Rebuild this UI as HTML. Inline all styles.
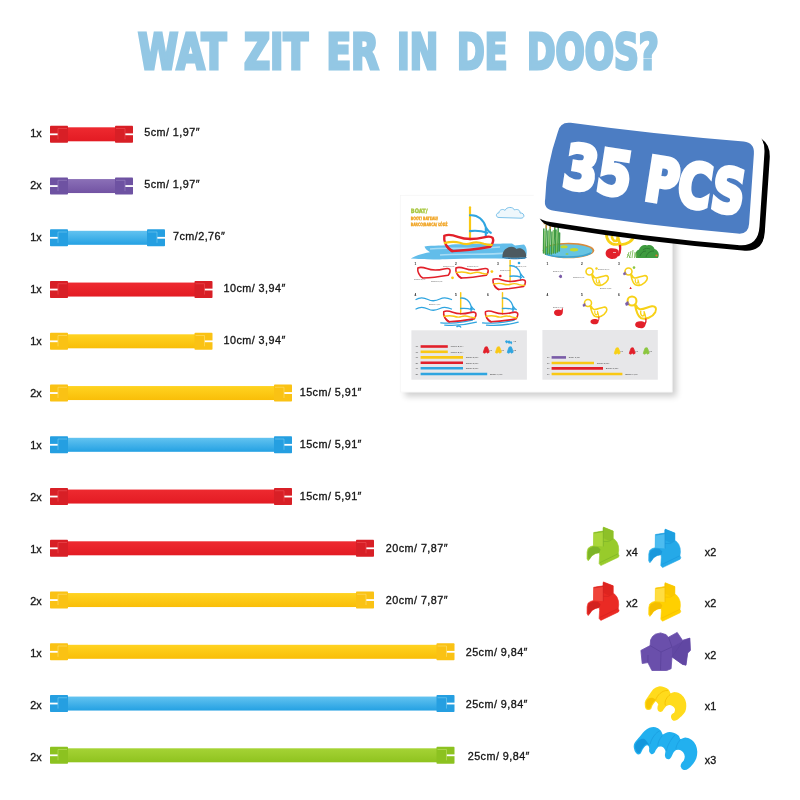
<!DOCTYPE html>
<html lang="nl"><head><meta charset="utf-8"><title>Wat zit er in de doos?</title>
<style>html,body{margin:0;padding:0;background:#fff}body{width:800px;height:800px;overflow:hidden}svg{display:block}text{white-space:pre}</style></head><body>
<svg width="800" height="800" viewBox="0 0 800 800">
<rect width="800" height="800" fill="#fff"/>
<defs><linearGradient id="g_red" x1="0" y1="0" x2="0" y2="1"><stop offset="0" stop-color="#ee2a30"/><stop offset="1" stop-color="#e31b23"/></linearGradient><linearGradient id="g_purple" x1="0" y1="0" x2="0" y2="1"><stop offset="0" stop-color="#8b70b7"/><stop offset="1" stop-color="#7253a3"/></linearGradient><linearGradient id="g_blue" x1="0" y1="0" x2="0" y2="1"><stop offset="0" stop-color="#63c3f0"/><stop offset="1" stop-color="#24a1e3"/></linearGradient><linearGradient id="g_yellow" x1="0" y1="0" x2="0" y2="1"><stop offset="0" stop-color="#ffd321"/><stop offset="1" stop-color="#f9be08"/></linearGradient><linearGradient id="g_green" x1="0" y1="0" x2="0" y2="1"><stop offset="0" stop-color="#a5d335"/><stop offset="1" stop-color="#8fc31f"/></linearGradient><filter id="blur3" x="-10%" y="-10%" width="120%" height="120%"><feGaussianBlur stdDeviation="3"/></filter></defs>
<g id="title" fill="#93c7e4" stroke="#93c7e4" stroke-width="3.0" stroke-linejoin="miter" font-family="'DejaVu Sans Condensed','DejaVu Sans','Liberation Sans',sans-serif" font-weight="bold" font-size="50">
<text><tspan x="138.0" y="69.0" textLength="88.3" lengthAdjust="spacingAndGlyphs">WAT</tspan> <tspan x="243.9" y="69.0" textLength="64.1" lengthAdjust="spacingAndGlyphs">ZIT</tspan> <tspan x="326.4" y="69.0" textLength="52.4" lengthAdjust="spacingAndGlyphs">ER</tspan> <tspan x="397.0" y="69.0" textLength="41.1" lengthAdjust="spacingAndGlyphs">IN</tspan> <tspan x="457.0" y="69.0" textLength="50.5" lengthAdjust="spacingAndGlyphs">DE</tspan> <tspan x="527.0" y="69.0" textLength="131.8" lengthAdjust="spacingAndGlyphs">DOOS?</tspan></text>
</g>
<g id="bars">
<rect x="67.0" y="127.30" width="49.0" height="14" fill="url(#g_red)"/>
<rect x="50.0" y="125.85" width="18" height="16.9" rx="0.8" fill="#d81f26"/>
<rect x="115.0" y="125.85" width="18" height="16.9" rx="0.8" fill="#d81f26"/>
<rect x="49.5" y="133.40" width="8.3" height="1.8" fill="#fff"/>
<rect x="125.2" y="133.40" width="8.3" height="1.8" fill="#fff"/>
<path d="M58.0 128.50H67.0M58.0 128.50V139.30" stroke="#f0555a" stroke-width="0.7" fill="none" opacity="0.8"/>
<path d="M116.0 128.50H125.0M125.0 128.50V139.30" stroke="#f0555a" stroke-width="0.7" fill="none" opacity="0.8"/>
<rect x="67.0" y="179.05" width="49.0" height="14" fill="url(#g_purple)"/>
<rect x="50.0" y="177.60" width="18" height="16.9" rx="0.8" fill="#6e52a2"/>
<rect x="115.0" y="177.60" width="18" height="16.9" rx="0.8" fill="#6e52a2"/>
<rect x="49.5" y="185.15" width="8.3" height="1.8" fill="#fff"/>
<rect x="125.2" y="185.15" width="8.3" height="1.8" fill="#fff"/>
<path d="M58.0 180.25H67.0M58.0 180.25V191.05" stroke="#a28dc8" stroke-width="0.7" fill="none" opacity="0.8"/>
<path d="M116.0 180.25H125.0M125.0 180.25V191.05" stroke="#a28dc8" stroke-width="0.7" fill="none" opacity="0.8"/>
<rect x="67.0" y="230.80" width="81.0" height="14" fill="url(#g_blue)"/>
<rect x="50.0" y="229.35" width="18" height="16.9" rx="0.8" fill="#259fe1"/>
<rect x="147.0" y="229.35" width="18" height="16.9" rx="0.8" fill="#259fe1"/>
<rect x="49.5" y="236.90" width="8.3" height="1.8" fill="#fff"/>
<rect x="157.2" y="236.90" width="8.3" height="1.8" fill="#fff"/>
<path d="M58.0 232.00H67.0M58.0 232.00V242.80" stroke="#7fd0f3" stroke-width="0.7" fill="none" opacity="0.8"/>
<path d="M148.0 232.00H157.0M157.0 232.00V242.80" stroke="#7fd0f3" stroke-width="0.7" fill="none" opacity="0.8"/>
<rect x="67.0" y="282.55" width="128.5" height="14" fill="url(#g_red)"/>
<rect x="50.0" y="281.10" width="18" height="16.9" rx="0.8" fill="#d81f26"/>
<rect x="194.5" y="281.10" width="18" height="16.9" rx="0.8" fill="#d81f26"/>
<rect x="49.5" y="288.65" width="8.3" height="1.8" fill="#fff"/>
<rect x="204.7" y="288.65" width="8.3" height="1.8" fill="#fff"/>
<path d="M58.0 283.75H67.0M58.0 283.75V294.55" stroke="#f0555a" stroke-width="0.7" fill="none" opacity="0.8"/>
<path d="M195.5 283.75H204.5M204.5 283.75V294.55" stroke="#f0555a" stroke-width="0.7" fill="none" opacity="0.8"/>
<rect x="67.0" y="334.30" width="128.5" height="14" fill="url(#g_yellow)"/>
<rect x="50.0" y="332.85" width="18" height="16.9" rx="0.8" fill="#fac214"/>
<rect x="194.5" y="332.85" width="18" height="16.9" rx="0.8" fill="#fac214"/>
<rect x="49.5" y="340.40" width="8.3" height="1.8" fill="#fff"/>
<rect x="204.7" y="340.40" width="8.3" height="1.8" fill="#fff"/>
<path d="M58.0 335.50H67.0M58.0 335.50V346.30" stroke="#ffe37a" stroke-width="0.7" fill="none" opacity="0.8"/>
<path d="M195.5 335.50H204.5M204.5 335.50V346.30" stroke="#ffe37a" stroke-width="0.7" fill="none" opacity="0.8"/>
<rect x="67.0" y="386.05" width="208.0" height="14" fill="url(#g_yellow)"/>
<rect x="50.0" y="384.60" width="18" height="16.9" rx="0.8" fill="#fac214"/>
<rect x="274.0" y="384.60" width="18" height="16.9" rx="0.8" fill="#fac214"/>
<rect x="49.5" y="392.15" width="8.3" height="1.8" fill="#fff"/>
<rect x="284.2" y="392.15" width="8.3" height="1.8" fill="#fff"/>
<path d="M58.0 387.25H67.0M58.0 387.25V398.05" stroke="#ffe37a" stroke-width="0.7" fill="none" opacity="0.8"/>
<path d="M275.0 387.25H284.0M284.0 387.25V398.05" stroke="#ffe37a" stroke-width="0.7" fill="none" opacity="0.8"/>
<rect x="67.0" y="437.80" width="208.0" height="14" fill="url(#g_blue)"/>
<rect x="50.0" y="436.35" width="18" height="16.9" rx="0.8" fill="#259fe1"/>
<rect x="274.0" y="436.35" width="18" height="16.9" rx="0.8" fill="#259fe1"/>
<rect x="49.5" y="443.90" width="8.3" height="1.8" fill="#fff"/>
<rect x="284.2" y="443.90" width="8.3" height="1.8" fill="#fff"/>
<path d="M58.0 439.00H67.0M58.0 439.00V449.80" stroke="#7fd0f3" stroke-width="0.7" fill="none" opacity="0.8"/>
<path d="M275.0 439.00H284.0M284.0 439.00V449.80" stroke="#7fd0f3" stroke-width="0.7" fill="none" opacity="0.8"/>
<rect x="67.0" y="489.55" width="208.0" height="14" fill="url(#g_red)"/>
<rect x="50.0" y="488.10" width="18" height="16.9" rx="0.8" fill="#d81f26"/>
<rect x="274.0" y="488.10" width="18" height="16.9" rx="0.8" fill="#d81f26"/>
<rect x="49.5" y="495.65" width="8.3" height="1.8" fill="#fff"/>
<rect x="284.2" y="495.65" width="8.3" height="1.8" fill="#fff"/>
<path d="M58.0 490.75H67.0M58.0 490.75V501.55" stroke="#f0555a" stroke-width="0.7" fill="none" opacity="0.8"/>
<path d="M275.0 490.75H284.0M284.0 490.75V501.55" stroke="#f0555a" stroke-width="0.7" fill="none" opacity="0.8"/>
<rect x="67.0" y="541.30" width="290.0" height="14" fill="url(#g_red)"/>
<rect x="50.0" y="539.85" width="18" height="16.9" rx="0.8" fill="#d81f26"/>
<rect x="356.0" y="539.85" width="18" height="16.9" rx="0.8" fill="#d81f26"/>
<rect x="49.5" y="547.40" width="8.3" height="1.8" fill="#fff"/>
<rect x="366.2" y="547.40" width="8.3" height="1.8" fill="#fff"/>
<path d="M58.0 542.50H67.0M58.0 542.50V553.30" stroke="#f0555a" stroke-width="0.7" fill="none" opacity="0.8"/>
<path d="M357.0 542.50H366.0M366.0 542.50V553.30" stroke="#f0555a" stroke-width="0.7" fill="none" opacity="0.8"/>
<rect x="67.0" y="593.05" width="290.0" height="14" fill="url(#g_yellow)"/>
<rect x="50.0" y="591.60" width="18" height="16.9" rx="0.8" fill="#fac214"/>
<rect x="356.0" y="591.60" width="18" height="16.9" rx="0.8" fill="#fac214"/>
<rect x="49.5" y="599.15" width="8.3" height="1.8" fill="#fff"/>
<rect x="366.2" y="599.15" width="8.3" height="1.8" fill="#fff"/>
<path d="M58.0 594.25H67.0M58.0 594.25V605.05" stroke="#ffe37a" stroke-width="0.7" fill="none" opacity="0.8"/>
<path d="M357.0 594.25H366.0M366.0 594.25V605.05" stroke="#ffe37a" stroke-width="0.7" fill="none" opacity="0.8"/>
<rect x="67.0" y="644.80" width="370.5" height="14" fill="url(#g_yellow)"/>
<rect x="50.0" y="643.35" width="18" height="16.9" rx="0.8" fill="#fac214"/>
<rect x="436.5" y="643.35" width="18" height="16.9" rx="0.8" fill="#fac214"/>
<rect x="49.5" y="650.90" width="8.3" height="1.8" fill="#fff"/>
<rect x="446.7" y="650.90" width="8.3" height="1.8" fill="#fff"/>
<path d="M58.0 646.00H67.0M58.0 646.00V656.80" stroke="#ffe37a" stroke-width="0.7" fill="none" opacity="0.8"/>
<path d="M437.5 646.00H446.5M446.5 646.00V656.80" stroke="#ffe37a" stroke-width="0.7" fill="none" opacity="0.8"/>
<rect x="67.0" y="696.55" width="370.5" height="14" fill="url(#g_blue)"/>
<rect x="50.0" y="695.10" width="18" height="16.9" rx="0.8" fill="#259fe1"/>
<rect x="436.5" y="695.10" width="18" height="16.9" rx="0.8" fill="#259fe1"/>
<rect x="49.5" y="702.65" width="8.3" height="1.8" fill="#fff"/>
<rect x="446.7" y="702.65" width="8.3" height="1.8" fill="#fff"/>
<path d="M58.0 697.75H67.0M58.0 697.75V708.55" stroke="#7fd0f3" stroke-width="0.7" fill="none" opacity="0.8"/>
<path d="M437.5 697.75H446.5M446.5 697.75V708.55" stroke="#7fd0f3" stroke-width="0.7" fill="none" opacity="0.8"/>
<rect x="67.0" y="748.30" width="370.5" height="14" fill="url(#g_green)"/>
<rect x="50.0" y="746.85" width="18" height="16.9" rx="0.8" fill="#8cc220"/>
<rect x="436.5" y="746.85" width="18" height="16.9" rx="0.8" fill="#8cc220"/>
<rect x="49.5" y="754.40" width="8.3" height="1.8" fill="#fff"/>
<rect x="446.7" y="754.40" width="8.3" height="1.8" fill="#fff"/>
<path d="M58.0 749.50H67.0M58.0 749.50V760.30" stroke="#c3e36e" stroke-width="0.7" fill="none" opacity="0.8"/>
<path d="M437.5 749.50H446.5M446.5 749.50V760.30" stroke="#c3e36e" stroke-width="0.7" fill="none" opacity="0.8"/>
</g>
<g id="labels" font-family="'Liberation Sans',sans-serif" font-size="10.8" fill="#151515" stroke="#151515" stroke-width="0.32">
<text x="30.3" y="137.2">1x</text>
<text x="144.2" y="135.8" letter-spacing="0.45">5cm/ 1,97″</text>
<text x="30.3" y="189.2">2x</text>
<text x="144.2" y="187.8" letter-spacing="0.45">5cm/ 1,97″</text>
<text x="30.3" y="241.2">1x</text>
<text x="173.0" y="239.8" letter-spacing="0.45">7cm/2,76″</text>
<text x="30.3" y="293.2">1x</text>
<text x="223.5" y="291.8" letter-spacing="0.45">10cm/ 3,94″</text>
<text x="30.3" y="345.2">1x</text>
<text x="223.5" y="343.8" letter-spacing="0.45">10cm/ 3,94″</text>
<text x="30.3" y="397.2">2x</text>
<text x="299.7" y="395.8" letter-spacing="0.45">15cm/ 5,91″</text>
<text x="30.3" y="449.2">1x</text>
<text x="299.7" y="447.8" letter-spacing="0.45">15cm/ 5,91″</text>
<text x="30.3" y="501.2">2x</text>
<text x="299.7" y="499.8" letter-spacing="0.45">15cm/ 5,91″</text>
<text x="30.3" y="553.2">1x</text>
<text x="385.8" y="551.8" letter-spacing="0.45">20cm/ 7,87″</text>
<text x="30.3" y="605.2">2x</text>
<text x="385.8" y="603.8" letter-spacing="0.45">20cm/ 7,87″</text>
<text x="30.3" y="657.2">1x</text>
<text x="465.7" y="655.8" letter-spacing="0.45">25cm/ 9,84″</text>
<text x="30.3" y="709.2">2x</text>
<text x="465.7" y="707.8" letter-spacing="0.45">25cm/ 9,84″</text>
<text x="30.3" y="761.2">2x</text>
<text x="467.7" y="759.8" letter-spacing="0.45">25cm/ 9,84″</text>
</g>
<g id="booklet">
<rect x="405" y="200" width="271.5" height="196.5" fill="#000" opacity="0.19" filter="url(#blur3)"/>
<rect x="400" y="195" width="272.4" height="197.3" fill="#fff"/>
<rect x="400.3" y="195.3" width="271.8" height="196.7" fill="none" stroke="#f4f4f4" stroke-width="0.6"/>
<g font-family="'DejaVu Sans Condensed','DejaVu Sans',sans-serif" font-weight="bold" stroke-width="0.35">
<text x="410.8" y="213" font-size="6" fill="#a6c63c" stroke="#a6c63c" textLength="16.7" lengthAdjust="spacingAndGlyphs">BOAT/</text>
<text x="410.8" y="219.6" font-size="4.6" fill="#f0a21e" stroke="#f0a21e" textLength="27.2" lengthAdjust="spacingAndGlyphs">BOOT/ BATEAU/</text>
<text x="410.8" y="226" font-size="4.6" fill="#f0a21e" stroke="#f0a21e" textLength="36.7" lengthAdjust="spacingAndGlyphs">BARCO/BARCA/ ŁÓDŹ</text>
</g>
<path d="M424.5 246.6C432 245 445 246 452 244.5C470 243 500 244 512 243.5L515 245.5L524 244.5C528 248 527 256 525 259C500 258.5 470 258 445 259.2C436 259.6 420 259.5 410.8 258.6C414 256 424 253 430 252.2C427 250.5 425 248.5 424.5 246.6Z" fill="#62bdea"/>
<path d="M430 249C445 247 470 250 500 247M440 255C460 253 490 256 515 252" stroke="#a6dcf5" stroke-width="1.6" fill="none"/>
<path d="M502.5 255C503 250 507 246.8 511.5 246.8C514 246.8 515.5 248 516.5 249C518 248 521 248 523 249.5C526 251.5 526.5 255 526 257.3C520 258 508 258 502.5 257Z" fill="#4d5a60"/>
<path d="M502 257C508 259.3 520 259.3 526.5 257.5" stroke="#2f6f9e" stroke-width="1" fill="none"/>
<path d="M499 217.5C495.5 217.5 495.5 213 499 212.8C499 209.5 503.5 208.5 505 210.5C506.5 206.5 513 206.5 514.5 210C517.5 208.5 520.5 210.5 520 213C524.5 212.5 525.5 218 521 218.2Z" fill="#eef7fc" stroke="#6fbbe6" stroke-width="0.9"/>
<g transform="translate(443.8 235.3) scale(1.000)" fill="none" stroke-linecap="round" stroke-linejoin="round"><path d="M26.2 -28V4" stroke="#f9c814" stroke-width="2.2"/><path d="M26.2 -20C34 -21 40 -15 42 -8C44 -5 46 -3 47 -2.5M26.2 -4.2C33 -5 39 -4 43.5 -2.5M42 -8L42 1.5" stroke="#2fa5e0" stroke-width="2.1"/><path d="M0.5 0.5C5 -1.5 10 0 14 1.5C22 4.5 32 4 40 2C44 1 47.5 1.2 48.8 2.5C50 5 48.5 9 46.5 11.5C35 13.5 18 15.5 8 15.8C3 13 -0.5 6 0.5 0.5Z" stroke="#e2202a" stroke-width="2.4"/><path d="M1 7.5C6 6.5 11 6 16 7.5C20 9 23 9.5 27 8C31 6.5 36 7 40 8.5C43 9.5 46 9.8 48 9.5" stroke="#f9c814" stroke-width="2.2"/><path d="M3 11C5 13.5 7 15 9 15.8" stroke="#e2202a" stroke-width="2.4"/></g>
<g font-family="'Liberation Sans',sans-serif" font-weight="bold" font-size="3.2" fill="#222">
<text x="414.5" y="264.5">1</text>
<text x="455.0" y="264.5">2</text>
<text x="497.0" y="264.5">3</text>
<text x="414.5" y="296.0">4</text>
<text x="455.0" y="296.0">5</text>
<text x="487.0" y="296.0">6</text>
<text x="546.5" y="264.5">1</text>
<text x="581.0" y="264.5">2</text>
<text x="618.0" y="264.5">3</text>
<text x="546.5" y="296.0">4</text>
<text x="581.0" y="296.0">5</text>
<text x="618.0" y="296.0">6</text>
</g>
<g transform="translate(417.5 267.6) scale(0.660)" fill="none" stroke-linecap="round" stroke-linejoin="round"><path d="M0.5 0.5C5 -1.5 10 0 14 1.5C22 4.5 32 4 40 2C44 1 47.5 1.2 48.8 2.5C50 5 48.5 9 46.5 11.5C35 13.5 18 15.5 8 15.8C3 13 -0.5 6 0.5 0.5Z" stroke="#e2202a" stroke-width="2.4"/></g>
<g transform="translate(455.6 267.6) scale(0.660)" fill="none" stroke-linecap="round" stroke-linejoin="round"><path d="M0.5 0.5C5 -1.5 10 0 14 1.5C22 4.5 32 4 40 2C44 1 47.5 1.2 48.8 2.5C50 5 48.5 9 46.5 11.5C35 13.5 18 15.5 8 15.8C3 13 -0.5 6 0.5 0.5Z" stroke="#e2202a" stroke-width="2.4"/><path d="M1 7.5C6 6.5 11 6 16 7.5C20 9 23 9.5 27 8C31 6.5 36 7 40 8.5C43 9.5 46 9.8 48 9.5" stroke="#f9c814" stroke-width="2.2"/><path d="M3 11C5 13.5 7 15 9 15.8" stroke="#e2202a" stroke-width="2.4"/></g>
<circle cx="452.5" cy="277.8" r="1.4" fill="#f9c814"/><circle cx="491.9" cy="271.6" r="1.4" fill="#f9c814"/>
<g transform="translate(492.8 279.0) scale(0.660)" fill="none" stroke-linecap="round" stroke-linejoin="round"><path d="M26.2 -28V4" stroke="#f9c814" stroke-width="2.2"/><path d="M26.2 -20C34 -21 40 -15 42 -8C44 -5 46 -3 47 -2.5M26.2 -4.2C33 -5 39 -4 43.5 -2.5M42 -8L42 1.5" stroke="#2fa5e0" stroke-width="2.1"/><path d="M0.5 0.5C5 -1.5 10 0 14 1.5C22 4.5 32 4 40 2C44 1 47.5 1.2 48.8 2.5C50 5 48.5 9 46.5 11.5C35 13.5 18 15.5 8 15.8C3 13 -0.5 6 0.5 0.5Z" stroke="#e2202a" stroke-width="2.4"/><path d="M1 7.5C6 6.5 11 6 16 7.5C20 9 23 9.5 27 8C31 6.5 36 7 40 8.5C43 9.5 46 9.8 48 9.5" stroke="#f9c814" stroke-width="2.2"/><path d="M3 11C5 13.5 7 15 9 15.8" stroke="#e2202a" stroke-width="2.4"/></g>
<circle cx="500.3" cy="276" r="1.3" fill="#e2202a"/><circle cx="519" cy="263" r="1.3" fill="#2fa5e0"/>
<path d="M416 299.5C420 297 424 297.5 428 299.5C432 301.5 436 301 440 299C444 297 448 298 451.5 299.5M416 309C420 306.5 424 307 428 309C432 311 436 310.5 440 308.5C444 306.5 448 307.5 451.5 309" stroke="#2fa5e0" stroke-width="1.3" fill="none" stroke-linecap="round"/>
<g transform="translate(443.4 311.3) scale(0.660)" fill="none" stroke-linecap="round" stroke-linejoin="round"><path d="M-4 17.5C8 19 30 17 44 13.5M2 21C15 22 35 20.5 50 16.5" stroke="#2fa5e0" stroke-width="1.9"/><path d="M26.2 -28V4" stroke="#f9c814" stroke-width="2.2"/><path d="M26.2 -20C34 -21 40 -15 42 -8C44 -5 46 -3 47 -2.5M26.2 -4.2C33 -5 39 -4 43.5 -2.5M42 -8L42 1.5" stroke="#2fa5e0" stroke-width="2.1"/><path d="M0.5 0.5C5 -1.5 10 0 14 1.5C22 4.5 32 4 40 2C44 1 47.5 1.2 48.8 2.5C50 5 48.5 9 46.5 11.5C35 13.5 18 15.5 8 15.8C3 13 -0.5 6 0.5 0.5Z" stroke="#e2202a" stroke-width="2.4"/><path d="M1 7.5C6 6.5 11 6 16 7.5C20 9 23 9.5 27 8C31 6.5 36 7 40 8.5C43 9.5 46 9.8 48 9.5" stroke="#f9c814" stroke-width="2.2"/><path d="M3 11C5 13.5 7 15 9 15.8" stroke="#e2202a" stroke-width="2.4"/></g>
<path d="M456.5 327C458 325.5 460 325.8 461 327.5" stroke="#2fa5e0" stroke-width="1.4" fill="none"/>
<g transform="translate(485.2 311.3) scale(0.660)" fill="none" stroke-linecap="round" stroke-linejoin="round"><path d="M-4 17.5C8 19 30 17 44 13.5M2 21C15 22 35 20.5 50 16.5" stroke="#2fa5e0" stroke-width="1.9"/><path d="M26.2 -28V4" stroke="#f9c814" stroke-width="2.2"/><path d="M26.2 -20C34 -21 40 -15 42 -8C44 -5 46 -3 47 -2.5M26.2 -4.2C33 -5 39 -4 43.5 -2.5M42 -8L42 1.5" stroke="#2fa5e0" stroke-width="2.1"/><path d="M0.5 0.5C5 -1.5 10 0 14 1.5C22 4.5 32 4 40 2C44 1 47.5 1.2 48.8 2.5C50 5 48.5 9 46.5 11.5C35 13.5 18 15.5 8 15.8C3 13 -0.5 6 0.5 0.5Z" stroke="#e2202a" stroke-width="2.4"/><path d="M1 7.5C6 6.5 11 6 16 7.5C20 9 23 9.5 27 8C31 6.5 36 7 40 8.5C43 9.5 46 9.8 48 9.5" stroke="#f9c814" stroke-width="2.2"/><path d="M3 11C5 13.5 7 15 9 15.8" stroke="#e2202a" stroke-width="2.4"/></g>
<g font-family="'Liberation Sans',sans-serif" font-size="2.2" fill="#555">
<text x="443.0" y="266.5">15cm/ 5,91″</text>
<text x="414.0" y="279.5">10cm/ 3,94″</text>
<text x="431.0" y="282.0">15cm/ 5,91″</text>
<text x="467.0" y="266.5">10cm/ 3,94″</text>
<text x="516.0" y="267.0">5cm/ 1,97″</text>
<text x="500.0" y="271.0">7cm/ 2,76″</text>
<text x="429.0" y="304.5">25cm/ 9,84″</text>
</g>
<rect x="411.4" y="330.3" width="115.5" height="49.4" fill="#e7e7e9"/>
<g font-family="'Liberation Sans',sans-serif" font-size="2.4" fill="#333">
<path d="M420.6 346.5H447.8" stroke="#e2202a" stroke-width="2.6"/>
<text x="415.6" y="347.4">1x</text>
<text x="450.6" y="347.4">10cm/ 3,94″</text>
<path d="M420.6 351.8H447.8" stroke="#f9c814" stroke-width="2.6"/>
<text x="415.6" y="352.7">1x</text>
<text x="450.6" y="352.7">10cm/ 3,94″</text>
<path d="M420.6 357.4H463.0" stroke="#f9c814" stroke-width="2.6"/>
<text x="415.6" y="358.3">1x</text>
<text x="465.8" y="358.3">15cm/ 5,91″</text>
<path d="M420.6 362.8H463.0" stroke="#e2202a" stroke-width="2.6"/>
<text x="415.6" y="363.7">2x</text>
<text x="465.8" y="363.7">15cm/ 5,91″</text>
<path d="M420.6 368.2H463.0" stroke="#2fa5e0" stroke-width="2.6"/>
<text x="415.6" y="369.1">1x</text>
<text x="465.8" y="369.1">15cm/ 5,91″</text>
<path d="M420.6 374.0H487.2" stroke="#2fa5e0" stroke-width="2.6"/>
<text x="415.6" y="374.9">2x</text>
<text x="490.0" y="374.9">25cm/ 9,84″</text>
<path d="M484.0 350.0l1.2 -3l2 -0.2l1.2 2.6l0.8 2.8l-1.8 1l-0.9 -1.2l-1.7 1.2l-1.5 -0.6z" fill="#e2202a" stroke="#e2202a" stroke-width="0.8" stroke-linejoin="round"/><text x="489.2" y="351.2">x1</text>
<path d="M496.2 350.0l1.2 -3l2 -0.2l1.2 2.6l0.8 2.8l-1.8 1l-0.9 -1.2l-1.7 1.2l-1.5 -0.6z" fill="#f9c814" stroke="#f9c814" stroke-width="0.8" stroke-linejoin="round"/><text x="501.4" y="351.2">x1</text>
<path d="M508.0 350.0l1.2 -3l2 -0.2l1.2 2.6l0.8 2.8l-1.8 1l-0.9 -1.2l-1.7 1.2l-1.5 -0.6z" fill="#2fa5e0" stroke="#2fa5e0" stroke-width="0.8" stroke-linejoin="round"/><text x="513.2" y="351.2">x2</text>
<path d="M505 341.5c1 -1.8 2.4 -1.6 2.8 -0.2c0.8 -1.4 2.2 -1 2.4 0.4c0.8 -1 2 -0.4 2 1.4l-1 1.4l-1 -1.6l-1.2 1.2l-1.2 -1.6l-1.4 1z" fill="#2fa5e0"/><text x="513.6" y="342">x1</text>
</g>
<ellipse cx="568.5" cy="250.5" rx="25.8" ry="7.8" fill="#d98a3a"/>
<ellipse cx="568" cy="251" rx="24.6" ry="6.8" fill="#66c4e2"/>
<path d="M545 254C555 258 580 258.5 591 253" stroke="#3ea3cf" stroke-width="1.6" fill="none"/>
<ellipse cx="564" cy="246.8" rx="3.6" ry="1.5" fill="#c5d92d"/><ellipse cx="574" cy="249.8" rx="4.2" ry="1.7" fill="#c5d92d"/><ellipse cx="567" cy="254" rx="1.6" ry="0.8" fill="#9acb3c"/>
<g stroke="#3f9a45" stroke-width="1.5" fill="none" stroke-linecap="round"><path d="M543.5 253L543.8 229M545.5 254L546.3 225M547.5 254L548 231M549.5 254L550.3 226M551.5 254L552 232M553.5 253L555 224M555.5 253L556 230M557.5 252L558.3 226M559.3 251L559.6 233"/></g>
<g stroke="#79c25c" stroke-width="1.1" fill="none"><path d="M544.5 253L545 231M548.5 253L549.3 229M552.5 253L553.3 230M556.5 252L557.3 231"/></g>
<path d="M546.3 225v3.5M555 224v3.5M550.3 226v3M543.6 223.5h2" stroke="#d8903a" stroke-width="1.3"/>
<g fill="none" stroke-linecap="round">
<path d="M606.5 233C606 240 610 244.5 616 244.5C618 244.5 619.5 244 620 243M612 234C611.5 238 613 241 615.5 241C617.5 241 618 238 617.5 235M617.5 235C618.5 239 619.5 242 620 246M620 244.5C627 245 633 241 634.5 235" stroke="#f7d117" stroke-width="2.7"/>
<path d="M620 246C620.5 250 620 253 618.5 255" stroke="#e2202a" stroke-width="2.3"/>
</g>
<path d="M605.6 253.5C605.6 250 608.5 248.3 612 248.3C615 248.3 617.5 249 618.5 250.5C619.5 254 618 258 614.5 258.8C611 259.5 605.8 258 605.6 253.5Z" fill="#e2202a"/>
<path d="M613 252.5h3" stroke="#fff" stroke-width="0.6"/>
<path d="M636 258C634.5 254 636 250.5 639 249.5C640 246 644 244 647 245.5C650 244 654 246 654.5 249C658 250 660 254 658 258Z" fill="#3f9b3f"/>
<path d="M640 256c1-3 3-5 6-5M646 257c1-4 4-6 8-6M643 250c2-2 5-2 7-1" stroke="#2f7d33" stroke-width="1" fill="none"/>
<g stroke="#6db544" stroke-width="0.8" fill="none"><path d="M627 258l2-6M629.5 258l1.5-7M632 258l1-8M634.5 258l0.5-6M637 258l-1-5M630.5 258l-3-4"/></g>
<circle cx="656.5" cy="255.5" r="1.1" fill="#e8702a"/>
<path d="M558.6 276.8l1.6-2.2l1.6 0.6l0.4 2l-1.6 1z" fill="#7a5ca8"/>
<g transform="translate(589.5 271.5) scale(0.760)" fill="none" stroke-linecap="round" stroke-linejoin="round"><circle cx="0" cy="0" r="4.6" stroke="#f7d117" stroke-width="2.1"/><path d="M3 3.8C4 9 5 15 9 17.5C14 19.5 21 17 24 11.5C26 7.5 24 5 20.5 5.5C16 6.2 12 9 8 8.5C6 8 5 6.5 4.2 4.5" stroke="#f7d117" stroke-width="2.1"/><path d="M9 10.5C8.5 13 9.5 15.5 11 15.5C12.5 15.5 13 13 12.5 11M12.5 11C13.5 13.5 14 16 14.3 18.5" stroke="#f7d117" stroke-width="1.5"/></g>
<circle cx="596.5" cy="268.5" r="1.2" fill="#f7d117"/>
<g transform="translate(628.5 271.5) scale(0.760)" fill="none" stroke-linecap="round" stroke-linejoin="round"><circle cx="0" cy="0" r="4.6" stroke="#f7d117" stroke-width="2.1"/><path d="M3 3.8C4 9 5 15 9 17.5C14 19.5 21 17 24 11.5C26 7.5 24 5 20.5 5.5C16 6.2 12 9 8 8.5C6 8 5 6.5 4.2 4.5" stroke="#f7d117" stroke-width="2.1"/><path d="M9 10.5C8.5 13 9.5 15.5 11 15.5C12.5 15.5 13 13 12.5 11M12.5 11C13.5 13.5 14 16 14.3 18.5" stroke="#f7d117" stroke-width="1.5"/><path d="M-4.4 0.6L-6.8 2.2L-6.2 4.6L-3.4 3.8Z" fill="#7a5ca8" stroke="#7a5ca8" stroke-width="0.6"/></g>
<circle cx="634" cy="267.6" r="1.3" fill="#8cc63f"/><path d="M629.4 289l1.2-2.2l1.2 2.2z" fill="#e2202a"/>
<path d="M554 312.6C554 310.6 556 309.6 558.4 309.6C559.6 309.6 560.6 309.8 561.4 310.2L562 308.2L563 308.4L562.8 312.2C562.8 314.6 561 315.8 558.6 316C556 316.2 554 315 554 312.6Z" fill="#e2202a"/>
<g transform="translate(588.0 303.0) scale(0.760)" fill="none" stroke-linecap="round" stroke-linejoin="round"><circle cx="0" cy="0" r="4.6" stroke="#f7d117" stroke-width="2.1"/><path d="M3 3.8C4 9 5 15 9 17.5C14 19.5 21 17 24 11.5C26 7.5 24 5 20.5 5.5C16 6.2 12 9 8 8.5C6 8 5 6.5 4.2 4.5" stroke="#f7d117" stroke-width="2.1"/><path d="M9 10.5C8.5 13 9.5 15.5 11 15.5C12.5 15.5 13 13 12.5 11M12.5 11C13.5 13.5 14 16 14.3 18.5" stroke="#f7d117" stroke-width="1.5"/><path d="M-4.4 0.6L-6.8 2.2L-6.2 4.6L-3.4 3.8Z" fill="#7a5ca8" stroke="#7a5ca8" stroke-width="0.6"/><path d="M14.3 18.5C14.6 20.5 14.2 22.5 13.6 23.5" stroke="#e2202a" stroke-width="1.3"/><path d="M3.2 24.6C3.2 22.2 5.6 21 8.4 21C11 21 13 21.6 13.8 22.8C14.4 25.4 13.2 27.6 10.6 28C7.8 28.4 3.4 27.6 3.2 24.6Z" fill="#e2202a" stroke="none"/></g>
<g transform="translate(632.0 301.0) scale(0.970)" fill="none" stroke-linecap="round" stroke-linejoin="round"><circle cx="0" cy="0" r="4.6" stroke="#f7d117" stroke-width="2.1"/><path d="M3 3.8C4 9 5 15 9 17.5C14 19.5 21 17 24 11.5C26 7.5 24 5 20.5 5.5C16 6.2 12 9 8 8.5C6 8 5 6.5 4.2 4.5" stroke="#f7d117" stroke-width="2.1"/><path d="M9 10.5C8.5 13 9.5 15.5 11 15.5C12.5 15.5 13 13 12.5 11M12.5 11C13.5 13.5 14 16 14.3 18.5" stroke="#f7d117" stroke-width="1.5"/><path d="M-4.4 0.6L-6.8 2.2L-6.2 4.6L-3.4 3.8Z" fill="#7a5ca8" stroke="#7a5ca8" stroke-width="0.6"/><path d="M14.3 18.5C14.6 20.5 14.2 22.5 13.6 23.5" stroke="#e2202a" stroke-width="1.3"/><path d="M3.2 24.6C3.2 22.2 5.6 21 8.4 21C11 21 13 21.6 13.8 22.8C14.4 25.4 13.2 27.6 10.6 28C7.8 28.4 3.4 27.6 3.2 24.6Z" fill="#e2202a" stroke="none"/></g>
<g font-family="'Liberation Sans',sans-serif" font-size="2.2" fill="#555">
<text x="553.0" y="272.0">5cm/ 1,97″</text>
<text x="598.0" y="269.5">10cm/ 3,94″</text>
<text x="573.0" y="278.0">15cm/ 5,91″</text>
<text x="600.0" y="288.5">20cm/ 7,87″</text>
<text x="553.0" y="307.5">5cm/ 1,97″</text>
</g>
<rect x="542.4" y="330" width="115.4" height="49.7" fill="#e7e7e9"/>
<g font-family="'Liberation Sans',sans-serif" font-size="2.4" fill="#333">
<path d="M551.6 357.4H566.0" stroke="#7a5ca8" stroke-width="2.6"/>
<text x="547" y="358.3">1x</text>
<text x="568.8" y="358.3">5cm/ 1,97″</text>
<path d="M551.6 363.0H594.0" stroke="#f9c814" stroke-width="2.6"/>
<text x="547" y="363.9">1x</text>
<text x="596.8" y="363.9">15cm/ 5,91″</text>
<path d="M551.6 368.4H603.0" stroke="#e2202a" stroke-width="2.6"/>
<text x="547" y="369.3">1x</text>
<text x="605.8" y="369.3">20cm/ 7,87″</text>
<path d="M551.6 374.0H622.4" stroke="#f9c814" stroke-width="2.6"/>
<text x="547" y="374.9">1x</text>
<text x="625.2" y="374.9">25cm/ 9,84″</text>
<path d="M615.0 351.0l1.2 -3l2 -0.2l1.2 2.6l0.8 2.8l-1.8 1l-0.9 -1.2l-1.7 1.2l-1.5 -0.6z" fill="#f7d117" stroke="#f7d117" stroke-width="0.8" stroke-linejoin="round"/><text x="620.2" y="352.2">x1</text>
<path d="M630.0 351.0l1.2 -3l2 -0.2l1.2 2.6l0.8 2.8l-1.8 1l-0.9 -1.2l-1.7 1.2l-1.5 -0.6z" fill="#e2202a" stroke="#e2202a" stroke-width="0.8" stroke-linejoin="round"/><text x="635.2" y="352.2">x1</text>
<path d="M644.0 351.0l1.2 -3l2 -0.2l1.2 2.6l0.8 2.8l-1.8 1l-0.9 -1.2l-1.7 1.2l-1.5 -0.6z" fill="#8cc63f" stroke="#8cc63f" stroke-width="0.8" stroke-linejoin="round"/><text x="649.2" y="352.2">x1</text>
</g>
</g>
<g id="badge">
<path d="M576.7 116.7Q663.5 128.7 750.2 135.5Q771.1 137.7 769.7 158.7L764.8 232.0Q763.4 253.0 742.5 250.4Q649.1 242.5 555.7 227.4Q534.8 224.8 538.7 204.2Q540.1 169.6 551.9 135.1Q555.8 114.4 576.7 116.7Z" fill="#000"/>
<path d="M571.4 111.3Q658.2 123.3 744.9 130.1Q765.8 132.3 764.4 153.3L759.5 226.6Q758.1 247.6 737.2 245.0Q643.8 237.1 550.4 222.0Q529.5 219.4 533.4 198.8Q534.8 164.2 546.6 129.7Q550.5 109.0 571.4 111.3Z" fill="#fff"/>
<path d="M570.7 122.8Q657.2 134.7 743.7 141.5Q754.6 142.7 753.9 153.7L749.1 223.8Q748.4 234.8 737.5 233.5Q645.8 225.8 554.0 210.8Q543.1 209.5 545.2 198.7Q546.2 165.6 557.7 132.4Q559.8 121.6 570.7 122.8Z" fill="#4c7dc3"/>
<text transform="translate(561.6 188.3) rotate(8.8)" font-family="'DejaVu Sans Condensed','DejaVu Sans',sans-serif" font-weight="bold" font-size="60.5" fill="#fff" stroke="#fff" stroke-width="4.6" stroke-linejoin="miter"><tspan x="-0.5" y="-1.7" textLength="67.5" lengthAdjust="spacingAndGlyphs">35</tspan> <tspan x="82" y="-1.7" textLength="99.5" lengthAdjust="spacingAndGlyphs">PCS</tspan></text>
</g>
<g id="connectors">
<path d="M603.3 527.1L613.2 531.0L613.2 538.5L614.7 539.4L617.0 542.3L618.4 546.0L618.7 550.0L618.2 553.8L619.1 555.6L618.4 557.2L600.8 565.6L599.1 563.6L599.6 555.6L599.4 552.8L595.5 553.6L591.9 555.8L589.8 558.8L588.2 560.8L587.0 558.8L587.1 552.0L588.0 548.4L590.5 546.6L593.5 545.7L593.7 532.5L603.3 531.0Z" fill="#98cb2b" stroke="#98cb2b" stroke-width="0.6" stroke-linejoin="round"/><path d="M587.9 552.0L589.0 548.8L593.4 546.6L598.0 547.0L600.6 549.6L599.4 552.8L595.5 553.6L591.9 555.8L589.8 558.8L588.7 559.6L588.0 557.0Z" fill="#7cb428"/><path d="M593.7 532.5L603.3 531.0L603.3 546.5L593.5 545.7Z" fill="#a9d63a"/><path d="M603.3 527.1L613.2 531.0L613.2 538.5L609.0 541.0L603.3 538.0Z" fill="#8ec028"/><path d="M603.3 528.0L603.3 546.5M594.2 533.0L603.3 531.6" fill="none" stroke="#7cb428" stroke-width="0.8"/><path d="M603.3 541.5Q609.0 543.0 613.2 538.8" fill="none" stroke="#7cb428" stroke-width="0.7"/><path d="M600.0 562.6L618.4 553.6" fill="none" stroke="#7cb428" stroke-width="0.7"/>
<path d="M665.0 529.1L674.9 533.0L674.9 540.5L676.4 541.4L678.7 544.3L680.1 548.0L680.4 552.0L679.9 555.8L680.8 557.6L680.1 559.2L662.5 567.6L660.8 565.6L661.3 557.6L661.1 554.8L657.2 555.6L653.6 557.8L651.5 560.8L649.9 562.8L648.7 560.8L648.8 554.0L649.7 550.4L652.2 548.6L655.2 547.7L655.4 534.5L665.0 533.0Z" fill="#25a9e8" stroke="#25a9e8" stroke-width="0.6" stroke-linejoin="round"/><path d="M649.6 554.0L650.7 550.8L655.1 548.6L659.7 549.0L662.3 551.6L661.1 554.8L657.2 555.6L653.6 557.8L651.5 560.8L650.4 561.6L649.7 559.0Z" fill="#1a98dc"/><path d="M655.4 534.5L665.0 533.0L665.0 548.5L655.2 547.7Z" fill="#4cbcf0"/><path d="M665.0 529.1L674.9 533.0L674.9 540.5L670.7 543.0L665.0 540.0Z" fill="#1d9fe0"/><path d="M665.0 530.0L665.0 548.5M655.9 535.0L665.0 533.6" fill="none" stroke="#1a98dc" stroke-width="0.8"/><path d="M665.0 543.5Q670.7 545.0 674.9 540.8" fill="none" stroke="#1a98dc" stroke-width="0.7"/><path d="M661.7 564.6L680.1 555.6" fill="none" stroke="#1a98dc" stroke-width="0.7"/>
<path d="M603.3 581.9L613.2 585.8L613.2 593.3L614.7 594.2L617.0 597.1L618.4 600.8L618.7 604.8L618.2 608.6L619.1 610.4L618.4 612.0L600.8 620.4L599.1 618.4L599.6 610.4L599.4 607.6L595.5 608.4L591.9 610.6L589.8 613.6L588.2 615.6L587.0 613.6L587.1 606.8L588.0 603.2L590.5 601.4L593.5 600.5L593.7 587.3L603.3 585.8Z" fill="#ea2a24" stroke="#ea2a24" stroke-width="0.6" stroke-linejoin="round"/><path d="M587.9 606.8L589.0 603.6L593.4 601.4L598.0 601.8L600.6 604.4L599.4 607.6L595.5 608.4L591.9 610.6L589.8 613.6L588.7 614.4L588.0 611.8Z" fill="#d3221f"/><path d="M593.7 587.3L603.3 585.8L603.3 601.3L593.5 600.5Z" fill="#f0443a"/><path d="M603.3 581.9L613.2 585.8L613.2 593.3L609.0 595.8L603.3 592.8Z" fill="#de241f"/><path d="M603.3 582.8L603.3 601.3M594.2 587.8L603.3 586.4" fill="none" stroke="#d3221f" stroke-width="0.8"/><path d="M603.3 596.3Q609.0 597.8 613.2 593.6" fill="none" stroke="#d3221f" stroke-width="0.7"/><path d="M600.0 617.4L618.4 608.4" fill="none" stroke="#d3221f" stroke-width="0.7"/>
<path d="M665.0 582.7L674.9 586.6L674.9 594.1L676.4 595.0L678.7 597.9L680.1 601.6L680.4 605.6L679.9 609.4L680.8 611.2L680.1 612.8L662.5 621.2L660.8 619.2L661.3 611.2L661.1 608.4L657.2 609.2L653.6 611.4L651.5 614.4L649.9 616.4L648.7 614.4L648.8 607.6L649.7 604.0L652.2 602.2L655.2 601.3L655.4 588.1L665.0 586.6Z" fill="#ffd000" stroke="#ffd000" stroke-width="0.6" stroke-linejoin="round"/><path d="M649.6 607.6L650.7 604.4L655.1 602.2L659.7 602.6L662.3 605.2L661.1 608.4L657.2 609.2L653.6 611.4L651.5 614.4L650.4 615.2L649.7 612.6Z" fill="#f4bd00"/><path d="M655.4 588.1L665.0 586.6L665.0 602.1L655.2 601.3Z" fill="#ffdd40"/><path d="M665.0 582.7L674.9 586.6L674.9 594.1L670.7 596.6L665.0 593.6Z" fill="#fac800"/><path d="M665.0 583.6L665.0 602.1M655.9 588.6L665.0 587.2" fill="none" stroke="#f4bd00" stroke-width="0.8"/><path d="M665.0 597.1Q670.7 598.6 674.9 594.4" fill="none" stroke="#f4bd00" stroke-width="0.7"/><path d="M661.7 618.2L680.1 609.2" fill="none" stroke="#f4bd00" stroke-width="0.7"/>
<path d="M640.9 650.4L650.1 645.6L650.6 639.9L652.5 636.5L655.4 634.2L660.6 632.9L665.9 634.6L668.5 637.2L677.2 632.4L682.5 640.3L689.9 638.1L690.4 650.4L687.7 653.0L686.0 665.2L682.5 664.4L672.0 656.9L671.1 668.7L666.7 670.5L651.9 670.5L647.9 662.6L642.2 663.5Z" fill="#6a4fab" stroke="#6a4fab" stroke-width="0.8" stroke-linejoin="round"/>
<path d="M650.1 645.6L661 652L672 647L668.5 637.2M661 652L660.5 670M672 656.9L683 641M647.9 662.6L648 655" fill="none" stroke="#5b419b" stroke-width="0.8"/>
<path d="M672 647L683 641L689.9 638.1L690.4 650.4L687.7 653L686 665.2L682.5 664.4L672 656.9Z" fill="#5e449f" opacity="0.7"/>
<path d="M646.5 708.0C646.1 707.3 645.9 705.8 645.9 704.8C645.8 703.7 645.6 702.8 646.2 701.5C646.7 700.2 647.7 698.9 649.1 697.0C650.5 695.0 652.7 691.4 654.3 689.8C655.9 688.2 657.2 687.8 658.9 687.5C660.5 687.3 662.5 687.7 664.1 688.2C665.6 688.7 666.9 689.4 668.0 690.5C669.0 691.5 669.0 693.9 670.2 694.4C671.4 694.8 673.4 692.9 675.1 693.1C676.8 693.2 678.8 693.8 680.3 695.0C681.8 696.2 683.4 698.4 684.2 700.2C685.0 702.0 685.2 704.2 685.2 706.1C685.2 707.9 685.0 709.6 684.2 711.3C683.4 712.9 681.6 714.5 680.3 715.8C679.0 717.1 677.5 718.4 676.4 719.1C675.3 719.7 674.5 719.9 673.8 719.7C673.1 719.5 672.4 718.5 672.2 717.8C672.0 717.0 672.0 715.9 672.5 715.2C673.0 714.4 674.5 714.2 675.1 713.2C675.7 712.2 676.2 710.5 676.1 709.3C676.0 708.1 675.3 706.9 674.5 706.1C673.6 705.2 672.3 704.4 671.2 704.1C670.1 703.8 668.9 703.9 668.0 704.1C667.0 704.3 666.2 704.6 665.4 705.4C664.5 706.2 663.4 707.8 662.8 708.7C662.1 709.5 662.0 710.3 661.5 710.6C660.9 710.9 660.0 710.9 659.5 710.6C659.0 710.3 658.6 709.5 658.5 708.7C658.4 707.8 658.7 706.2 658.9 705.4C659.0 704.6 659.7 704.8 659.5 704.1C659.3 703.5 658.2 702.2 657.6 701.5C656.9 700.9 656.2 700.2 655.6 700.2C655.0 700.2 654.6 700.7 654.0 701.5C653.3 702.3 652.3 703.7 651.7 704.8C651.1 705.8 650.9 707.3 650.4 708.0C649.9 708.7 649.1 709.0 648.5 709.0C647.8 709.0 646.9 708.7 646.5 708.0Z" fill="#ffdb1c" stroke="#ffdb1c" stroke-width="2.2" stroke-linejoin="round"/>
<path d="M646.5 707.7C646.1 706.6 645.9 703.7 646.2 702.2C646.5 700.6 647.3 699.3 648.5 698.6C649.6 697.9 651.8 697.7 653.0 697.9C654.2 698.2 655.4 699.6 655.6 700.2C655.8 700.8 654.6 700.7 654.0 701.5C653.3 702.3 652.3 703.7 651.7 704.8C651.1 705.8 650.9 707.3 650.4 708.0C649.9 708.7 649.1 708.8 648.5 708.8C647.8 708.7 646.9 708.8 646.5 707.7Z" fill="#f6c400"/>
<path d="M670.2 694.4C667 697 664 701 665.4 705.4M655.6 700.2C657 695.5 662 690 668 690.5" fill="none" stroke="#f2bd00" stroke-width="0.8"/>
<path d="M636.8 752.2C636.0 751.3 635.2 749.5 635.0 748.1C634.7 746.7 634.7 745.1 635.4 743.6C636.1 742.1 637.4 741.1 639.0 739.1C640.7 737.2 643.5 733.6 645.3 731.9C647.1 730.2 648.2 729.4 649.8 728.8C651.5 728.2 653.6 727.9 655.2 728.3C656.9 728.7 658.5 729.8 659.7 731.0C660.9 732.2 661.1 735.1 662.4 735.5C663.8 735.9 666.0 733.6 667.8 733.3C669.6 733.0 671.6 733.2 673.2 733.7C674.9 734.2 676.6 735.4 677.7 736.4C678.8 737.5 678.6 739.6 680.0 740.0C681.3 740.4 683.9 738.5 685.8 738.7C687.7 738.8 689.7 739.8 691.2 740.9C692.7 742.0 694.0 743.6 694.8 745.4C695.6 747.2 696.1 749.6 696.2 751.7C696.2 753.8 695.9 756.1 695.3 758.0C694.6 760.0 693.4 761.8 692.1 763.4C690.8 765.1 689.0 767.0 687.6 767.9C686.3 768.8 685.0 769.0 684.0 768.8C683.0 768.6 682.0 767.5 681.8 766.6C681.5 765.7 682.1 764.4 682.7 763.4C683.2 762.4 684.4 761.9 684.9 760.7C685.4 759.5 686.0 757.7 685.8 756.2C685.7 754.7 684.9 752.9 684.0 751.7C683.1 750.5 681.8 749.5 680.4 749.0C679.1 748.6 677.2 748.6 675.9 749.0C674.6 749.5 673.7 750.5 672.8 751.7C671.9 752.9 671.1 755.2 670.5 756.2C669.9 757.3 669.8 757.8 669.2 758.0C668.6 758.2 667.4 758.0 666.9 757.6C666.4 757.1 666.1 756.4 666.0 755.3C665.9 754.2 666.7 752.2 666.5 750.8C666.2 749.5 665.5 748.1 664.7 747.2C663.8 746.3 662.6 745.6 661.5 745.4C660.4 745.2 659.0 745.3 657.9 745.9C656.9 746.5 656.0 748.0 655.2 749.0C654.5 750.1 654.0 751.5 653.4 752.2C652.8 752.8 652.1 753.2 651.6 753.1C651.1 752.9 650.5 752.1 650.3 751.3C650.0 750.4 650.4 749.1 650.3 748.1C650.1 747.1 649.9 746.1 649.4 745.4C648.8 744.7 647.9 744.1 647.1 744.1C646.3 744.1 645.3 744.6 644.4 745.4C643.5 746.2 642.5 747.7 641.7 749.0C640.9 750.3 640.3 752.5 639.5 753.1C638.6 753.6 637.5 753.0 636.8 752.2Z" fill="#22b0ef" stroke="#22b0ef" stroke-width="2.2" stroke-linejoin="round"/>
<path d="M636.8 751.9C636.0 751.1 635.4 749.4 635.2 748.1C635.0 746.8 635.0 745.4 635.6 744.1C636.2 742.7 637.5 740.8 639.0 740.0C640.5 739.2 642.7 738.2 644.4 739.1C646.1 740.0 648.9 744.6 649.4 745.4C649.8 746.2 647.9 744.1 647.1 744.1C646.3 744.1 645.3 744.6 644.4 745.4C643.5 746.2 642.5 747.8 641.7 749.0C640.9 750.2 640.3 752.4 639.5 752.9C638.6 753.4 637.5 752.7 636.8 751.9Z" fill="#1497dc"/>
<path d="M662.4 735.5C659.5 739 657.5 743 657.9 745.9M680 740C677.5 743 676 746.5 675.9 749M650.2 744C651 739 656 732 659.7 731M666.5 750.8C667 746 671 739 675 735" fill="none" stroke="#1a9de0" stroke-width="0.8"/>
</g>
<g id="connlabels" font-family="'Liberation Sans',sans-serif" font-size="10.8" fill="#151515" stroke="#151515" stroke-width="0.32">
<text x="626.3" y="556.0">x4</text>
<text x="704.8" y="556.0">x2</text>
<text x="626.3" y="606.5">x2</text>
<text x="704.8" y="606.5">x2</text>
<text x="704.8" y="659.0">x2</text>
<text x="704.8" y="710.0">x1</text>
<text x="704.8" y="763.6">x3</text>
</g>
</svg></body></html>
